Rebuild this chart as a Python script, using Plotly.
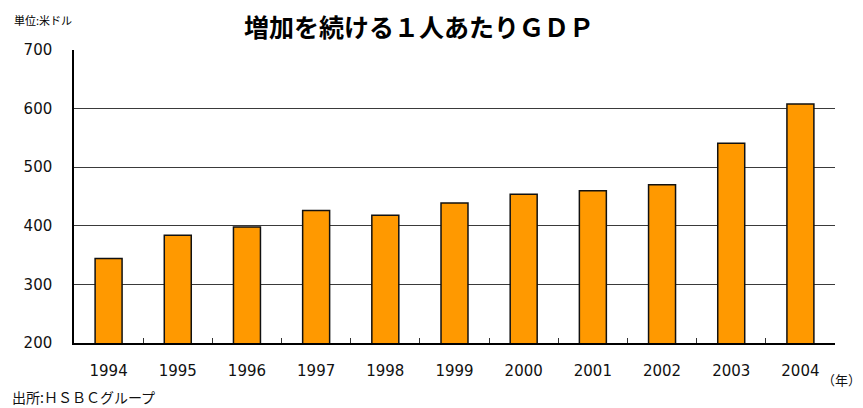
import plotly.graph_objects as go

years = ["1994", "1995", "1996", "1997", "1998", "1999", "2000", "2001", "2002", "2003", "2004"]
gdp = [344, 384, 398, 426, 418, 439, 454, 460, 470, 541, 608]

title_text = "増加を続ける１人あたりＧＤＰ"
unit_text = "単位:米ドル"
year_text = "（年）"
source_text = "出所:ＨＳＢＣグループ"

FONT = "DejaVu Sans, Noto Sans CJK JP, sans-serif"
JP = "Noto Sans CJK JP, sans-serif"

# the page puts the figure 8px in from the top-left, so the figure is 8px smaller
W, H = 855, 400
L, R, T, B = 66, 827, 42, 335

fig = go.Figure()
fig.add_trace(go.Bar(
    x=years, y=gdp,
    marker=dict(color="#FF9900", line=dict(color="#111111", width=1.5)),
    width=0.39,
))

def px_x(p):
    return (p - L) / (R - L)

def px_y(p):
    return (B - p) / (B - T)

fig.update_layout(
    width=W, height=H,
    margin=dict(l=L, r=W - R, t=T, b=H - B),
    paper_bgcolor="white", plot_bgcolor="white",
    showlegend=False,
    font=dict(family=FONT, size=15, color="#111111"),
    title=dict(text="<b>" + title_text + "</b>", x=411 / W, xanchor="center",
               y=1 - 20 / H, yanchor="middle",
               font=dict(family=JP, size=25, color="#000000")),
)
fig.update_xaxes(
    type="category", showline=True, linecolor="#000000", linewidth=1.5,
    ticks="inside", tickson="boundaries", ticklen=5, tickcolor="#333333",
    showgrid=False, ticklabelstandoff=13,
    tickfont=dict(family=FONT, size=15, color="#111111"),
)
fig.update_yaxes(
    range=[200, 700], dtick=100, showline=True, linecolor="#000000", linewidth=1.5,
    showgrid=True, gridcolor="#3a3a3a", gridwidth=1,
    ticks="", ticklabelstandoff=17, zeroline=False,
    tickfont=dict(family=FONT, size=15, color="#111111"),
)

fig.add_annotation(text=unit_text, xref="paper", yref="paper",
                   x=px_x(4), y=px_y(12), xanchor="left", yanchor="middle",
                   showarrow=False, font=dict(family=JP, size=11, color="#000000"))
fig.add_annotation(text=year_text, xref="paper", yref="paper",
                   x=px_x(855), y=px_y(372), xanchor="right", yanchor="middle",
                   showarrow=False, font=dict(family=JP, size=13, color="#111111"))
fig.add_annotation(text=source_text, xref="paper", yref="paper",
                   x=px_x(2), y=px_y(389), xanchor="left", yanchor="middle",
                   showarrow=False, font=dict(family=JP, size=14, color="#111111"))

fig.write_html("out.html")
